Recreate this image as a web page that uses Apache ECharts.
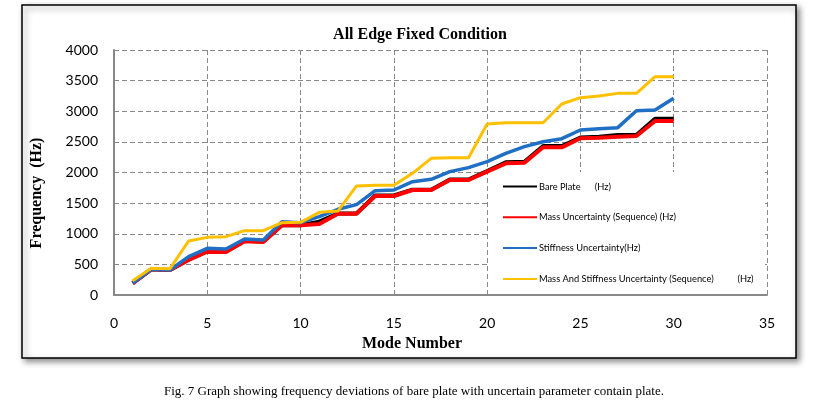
<!DOCTYPE html>
<html><head><meta charset="utf-8">
<script src="https://cdn.jsdelivr.net/npm/echarts@6/dist/echarts.min.js"></script>
<style>html,body{margin:0;padding:0;background:#fff}#c{width:826px;height:410px}</style>
</head><body><div id="c"></div>
<script>
const modes = Array.from({length: 30}, (_, i) => i + 1);
const seriesNames = ['Bare Plate      (Hz)', 'Mass Uncertainty (Sequence) (Hz)', 'Stiffness Uncertainty(Hz)', 'Mass And Stiffness Uncertainty (Sequence)          (Hz)'];
const barePlate = [195, 420, 410, 580, 715, 710, 885, 875, 1140, 1140, 1197, 1330, 1330, 1625, 1625, 1720, 1720, 1885, 1885, 2025, 2166, 2175, 2433, 2433, 2570, 2585, 2612, 2612, 2879, 2879];
const massUnc = [190, 419, 408, 571, 707, 702, 876, 865, 1137, 1137, 1159, 1328, 1328, 1616, 1616, 1714, 1714, 1877, 1877, 2014, 2150, 2161, 2411, 2411, 2558, 2569, 2585, 2596, 2841, 2841];
const stiffUnc = [195, 419, 408, 626, 762, 751, 914, 898, 1197, 1181, 1279, 1399, 1475, 1703, 1714, 1850, 1888, 2014, 2079, 2177, 2313, 2422, 2503, 2552, 2694, 2716, 2732, 3009, 3020, 3211];
const massStiffUnc = [234, 435, 430, 882, 941, 952, 1050, 1050, 1181, 1186, 1350, 1371, 1780, 1790, 1790, 1986, 2231, 2242, 2242, 2792, 2813, 2813, 2813, 3118, 3222, 3249, 3292, 3292, 3565, 3565];
const xTicks = [0, 5, 10, 15, 20, 25, 30, 35];
const yTicks = [0, 500, 1000, 1500, 2000, 2500, 3000, 3500, 4000];

const colors = ['#000000', '#ff0000', '#1f6fc5', '#ffc000'];
const widths = [4, 4, 3.5, 3];
const allData = [barePlate, massUnc, stiffUnc, massStiffUnc];

const chart = echarts.init(document.getElementById('c'), null, {renderer: 'canvas'});
const serif = '"Liberation Serif", "Times New Roman", serif';
const sans = 'Lato, "Open Sans", sans-serif';
chart.setOption({
  animation: false,
  backgroundColor: '#fff',
  graphic: [
    {type: 'rect', z: -10, shape: {x: 22, y: 5, width: 774, height: 353},
     style: {fill: '#fff', stroke: '#000', lineWidth: 1.5, shadowBlur: 6, shadowOffsetX: 3, shadowOffsetY: 3, shadowColor: 'rgba(0,0,0,0.45)'}},
    {type: 'rect', z: 1, shape: {x: 489, y: 172, width: 276, height: 122}, style: {fill: '#fff'}},
    {type: 'text', z: 5, x: 420, y: 35, style: {text: 'All Edge Fixed Condition', font: 'bold 16px ' + serif, fill: '#000', textAlign: 'center', textVerticalAlign: 'middle'}},
    {type: 'text', z: 5, x: 37, y: 193, rotation: Math.PI / 2, style: {text: 'Frequency  (Hz)', font: 'bold 16px ' + serif, fill: '#000', textAlign: 'center', textVerticalAlign: 'middle'}},
    {type: 'text', z: 5, x: 412, y: 344, style: {text: 'Mode Number', font: 'bold 16px ' + serif, fill: '#000', textAlign: 'center', textVerticalAlign: 'middle'}},
    {type: 'text', z: 5, x: 414, y: 392, style: {text: 'Fig. 7 Graph showing frequency deviations of bare plate with uncertain parameter contain plate.', font: '13px ' + serif, fill: '#000', textAlign: 'center', textVerticalAlign: 'middle'}}
  ],
  grid: {left: 114, right: 59, top: 50, bottom: 115, containLabel: false},
  legend: {
    orient: 'vertical', left: 498, top: 177, itemGap: 21.8, itemWidth: 34, itemHeight: 10,
    icon: 'path://M0,4 L34,4 L34,6 L0,6 Z',
    data: seriesNames.map((n, i) => ({name: n, itemStyle: {color: colors[i]}})),
    textStyle: {fontFamily: sans, fontSize: 9.3, color: '#000', padding: [0, 0, 0, -3]}
  },
  xAxis: {
    type: 'value', min: 0, max: 35, interval: 5,
    axisLine: {show: true, lineStyle: {color: '#888', width: 2}},
    axisTick: {show: false},
    axisLabel: {fontFamily: sans, fontSize: 14, color: '#000', margin: 21,
      formatter: v => xTicks.includes(v) ? String(v) : ''},
    splitLine: {show: true, lineStyle: {color: '#888', type: [5, 3], width: 1}}
  },
  yAxis: {
    type: 'value', min: 0, max: 4000, interval: 500,
    axisLine: {show: true, lineStyle: {color: '#888', width: 2}},
    axisTick: {show: true, inside: true, length: 3, lineStyle: {color: '#888'}},
    axisLabel: {fontFamily: sans, fontSize: 14, color: '#000', margin: 16,
      formatter: v => yTicks.includes(v) ? String(v) : ''},
    splitLine: {show: true, lineStyle: {color: '#888', type: [5, 3], width: 1}}
  },
  series: seriesNames.map((n, i) => ({
    name: n, type: 'line', symbol: 'none', z: 2 + i,
    data: modes.map((m, k) => [m, allData[i][k]]),
    lineStyle: {color: colors[i], width: widths[i]},
    itemStyle: {color: colors[i]}
  }))
});
</script></body></html>
